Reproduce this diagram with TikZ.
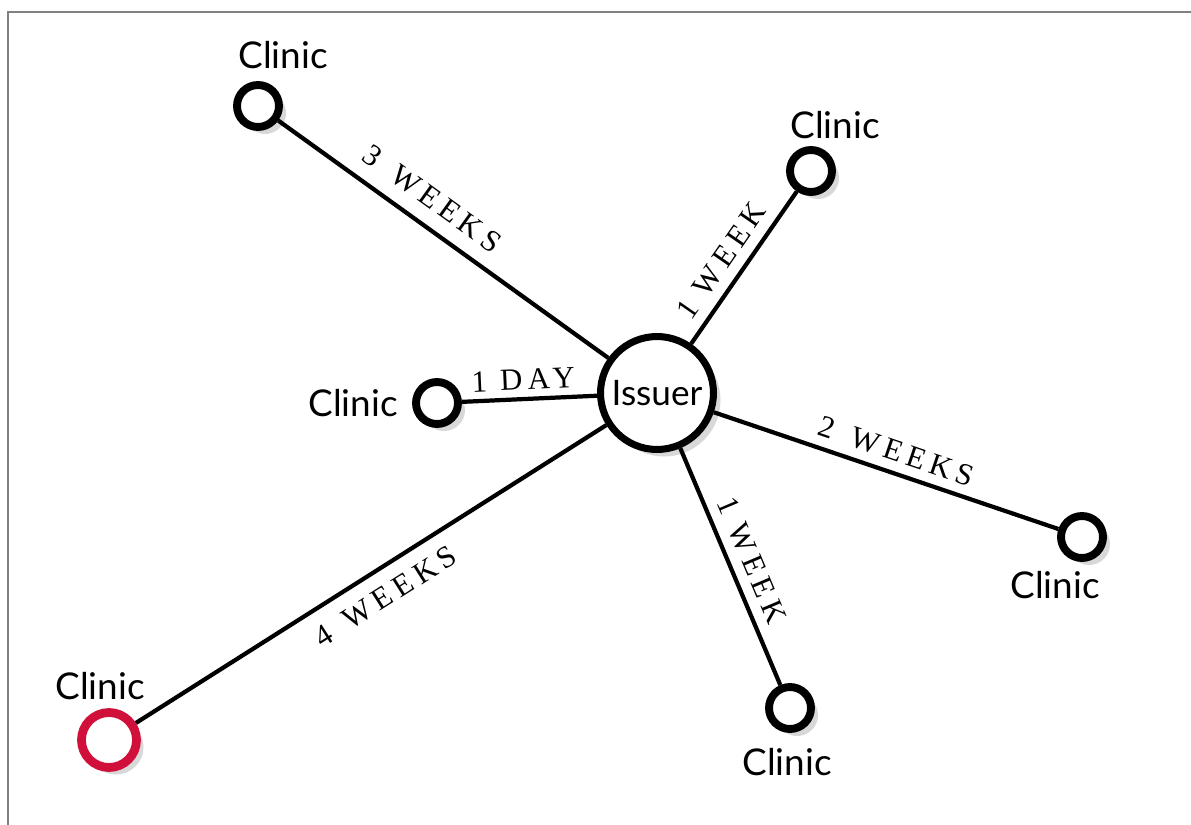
\documentclass[tikz,border=0pt]{standalone}
\usepackage{fontspec}
\setmainfont{Lato}
\newfontfamily\capsfont[LetterSpace=18]{Liberation Serif}
\usepackage{tikz}
\usetikzlibrary{shadows}
\definecolor{clinicred}{RGB}{208,16,58}
\definecolor{framegray}{RGB}{128,128,128}
\tikzset{>=latex}

\begin{document}
\begin{tikzpicture}[x=0.02cm, y=-0.02cm]
                % coordinates are pixels of the 1191x825 sheet, y down
                \tikzstyle{soft}=[drop shadow={shadow xshift=4pt, shadow yshift=-4pt, opacity=.22, fill=black!70}]
                \tikzstyle{clinic}=[circle, draw=black, fill=white, line width=4.5pt, minimum size=0.84cm, inner sep=0pt, soft]
                \tikzstyle{far clinic}=[clinic, draw=clinicred, line width=5pt, minimum size=1.1cm]
                \tikzstyle{issuer}=[circle, draw=black, fill=white, line width=4pt, minimum size=2.26cm, inner sep=0pt, soft, font=\fontsize{20}{24}\selectfont]
                \tikzstyle{clinictext}=[inner sep=0pt, font=\fontsize{21}{25}\selectfont]
                \tikzstyle{gap}=[sloped, inner sep=0.2cm, font=\capsfont\fontsize{17.5}{20}\selectfont]
                \tikzstyle{every edge}=[black, line width=2.4pt, draw]
                \useasboundingbox (0,0) rectangle (1191,825);
                \draw[framegray, line width=1.1pt] (8,825) -- (8,12) -- (1191,12);
                \node (I) [issuer] at (657, 393) {Issuer};
                \node (C1) [clinic] at (258, 106) {};
                \node (C2) [clinic] at (811, 171) {};
                \node (C3) [clinic] at (437, 403) {};
                \node (C4) [clinic] at (1082, 537) {};
                \node (C5) [clinic] at (790, 708) {};
                \node (C6) [far clinic] at (109, 740) {};
                \node (L1) [clinictext, above of = C1, node distance=1.02cm, xshift=0.5cm] {Clinic};
                \node (L2) [clinictext, above of = C2, node distance=0.92cm, xshift=0.48cm] {Clinic};
                \node (L3) [clinictext, left of = C3, node distance=1.68cm] {Clinic};
                \node (L4) [clinictext, below of = C4, node distance=0.96cm, xshift=-0.54cm] {Clinic};
                \node (L5) [clinictext, below of = C5, node distance=1.08cm, xshift=-0.06cm] {Clinic};
                \node (L6) [clinictext, above of = C6, node distance=1.08cm, xshift=-0.18cm] {Clinic};
                \draw (C1) edge node[gap, pos=.42, above, inner sep=0.28cm] {3\, WEEKS} (I);
                \draw (I) edge node[gap, pos=.46, above] {1 WEEK} (C2);
                \draw (C3) edge node[gap, pos=.46, above, inner sep=0.14cm] {1 DAY} (I);
                \draw (I) edge node[gap, pos=.51, above, inner sep=0.18cm] {2\, WEEKS} (C4);
                \draw (I) edge node[gap, pos=.51, above] {1 WEEK} (C5);
                \draw (C6) edge node[gap, pos=.5, below, inner sep=0.28cm] {4\, WEEKS} (I);
        \end{tikzpicture}
\end{document}
